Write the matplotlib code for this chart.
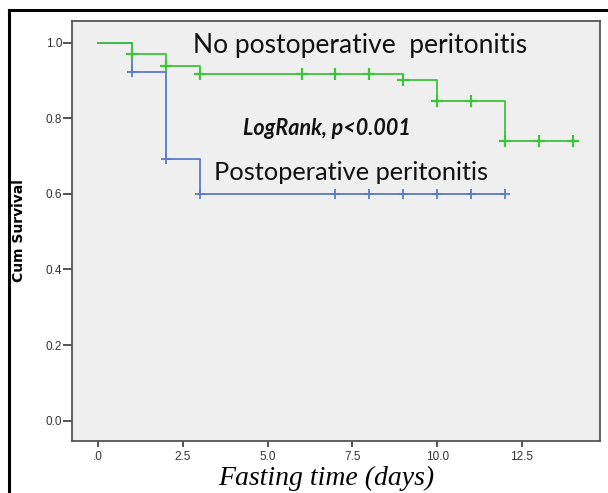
import numpy as np
import matplotlib
matplotlib.use("Agg")
import matplotlib.pyplot as plt
from matplotlib.lines import Line2D

# survival steps
no_perit_times = [0, 1, 2, 3, 9, 10, 12, 14]
no_perit_surv = [1.0, 0.969, 0.938, 0.917, 0.901, 0.846, 0.740, 0.740]
no_perit_censored = [1, 2, 3, 6, 7, 8, 9, 10, 11, 12, 13, 14]

perit_times = [0, 1, 2, 3, 12]
perit_surv = [1.0, 0.923, 0.692, 0.600, 0.600]
perit_censored = [1, 2, 3, 7, 8, 9, 10, 11, 12]

x_ticks = [0, 2.5, 5.0, 7.5, 10.0, 12.5]
x_tick_labels = [".0", "2.5", "5.0", "7.5", "10.0", "12.5"]
y_ticks = [0.0, 0.2, 0.4, 0.6, 0.8, 1.0]

green = "#3cc43c"
blue = "#5a7ac8"


def surv_at(times, surv, t):
    # value of a right-continuous step curve at t
    i = np.searchsorted(times, t, side="right") - 1
    return np.array(surv)[i]


fig = plt.figure(figsize=(6.08, 4.93), dpi=100)
ax = fig.add_axes([0.1184, 0.1061, 0.8684, 0.8513])
ax.set_facecolor("#efefef")

ax.step(perit_times, perit_surv, where="post", color=blue, lw=1.3, zorder=2)
ax.plot(perit_censored, surv_at(perit_times, perit_surv, perit_censored),
        ls="none", marker="+", ms=7, mew=1.3, color=blue, zorder=2)
ax.step(no_perit_times, no_perit_surv, where="post", color=green, lw=1.3, zorder=3)
ax.plot(no_perit_censored, surv_at(no_perit_times, no_perit_surv, no_perit_censored),
        ls="none", marker="+", ms=8, mew=1.6, color=green, zorder=3)

ax.set_xlim(-0.77, 14.8)
ax.set_ylim(-0.053, 1.057)
ax.set_xticks(x_ticks)
ax.set_xticklabels(x_tick_labels)
ax.set_yticks(y_ticks)
ax.set_yticklabels([f"{v:.1f}" for v in y_ticks])
for s in ax.spines.values():
    s.set_color("#555555")
    s.set_linewidth(1.3)
ax.tick_params(direction="out", width=1.3, color="#444444",
               labelsize=8.5, labelcolor="#333333")
ax.tick_params(axis="y", length=6.5, pad=0.5)
ax.tick_params(axis="x", length=4.3, pad=3)
for lab in ax.get_xticklabels() + ax.get_yticklabels():
    lab.set_family("Liberation Sans")

ax.text(2.8, 0.991, "No postoperative  peritonitis",
        fontsize=19, family="Lato", color="#111111", va="center")
ax.text(4.28, 0.774, "LogRank, p<0.001",
        fontsize=15.5, family="Lato", weight="bold", style="italic",
        color="#111111", va="center")
ax.text(3.42, 0.655, "Postoperative peritonitis",
        fontsize=18.3, family="Lato", color="#111111", va="center")

fig.text(0.031, 0.533, "Cum Survival", rotation=90, ha="center", va="center",
         fontsize=10, weight="bold", family="Liberation Sans Narrow")
fig.text(0.537, 0.016, "Fasting time (days)", ha="center", va="baseline",
         fontsize=20, style="italic", family="Liberation Serif")

# outer frame (top and left edges)
fig.add_artist(Line2D([9 / 608, 1.0], [1 - 10 / 493, 1 - 10 / 493],
                      transform=fig.transFigure, color="black", lw=2.2))
fig.add_artist(Line2D([9 / 608, 9 / 608], [0.0, 1 - 10 / 493],
                      transform=fig.transFigure, color="black", lw=2.2))

fig.savefig("out.png", dpi=100)
